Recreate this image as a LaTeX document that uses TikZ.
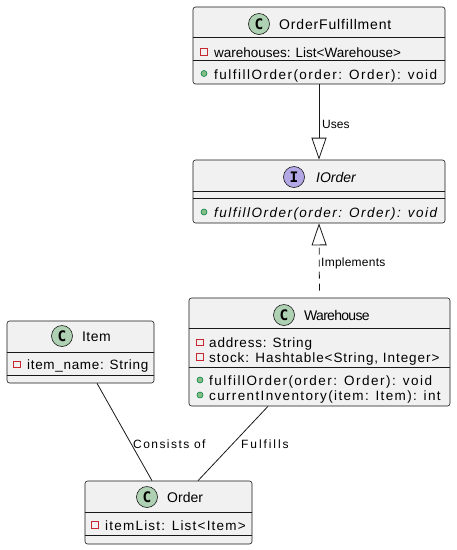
\documentclass[tikz,border=0pt]{standalone}
\usepackage{fontspec}
\setmainfont{Liberation Sans}
\newfontfamily\badgefont{DejaVu Sans Mono}
\usepackage{tikz}
\definecolor{umlline}{HTML}{181818}
\definecolor{boxfill}{HTML}{F1F1F1}
\definecolor{classbadge}{HTML}{ADD1B2}
\definecolor{ifacebadge}{HTML}{B4A7E5}
\definecolor{privred}{HTML}{C82930}
\definecolor{pubgreen}{HTML}{038048}
\definecolor{pubfill}{HTML}{84BE84}
\tikzset{
    classbox/.style={draw=umlline, fill=boxfill, rectangle, rounded corners=2.5pt, line width=0.6pt, inner sep=0},
    badge/.style={draw=umlline, circle, line width=0.6pt, minimum size=21pt, inner sep=0, fill=classbadge, font=\badgefont\fontsize{14.5}{14.5}\selectfont\bfseries},
    ibadge/.style={badge, fill=ifacebadge},
    cname/.style={anchor=base west, inner sep=0, font=\fontsize{14}{16}\selectfont\addfontfeatures{LetterSpace=#1}},
    cname/.default=0,
    member/.style={anchor=base west, inner sep=0, font=\fontsize{13.5}{15}\selectfont\addfontfeatures{LetterSpace=#1}},
    member/.default=0,
    divider/.style={umlline, line width=0.6pt},
    priv/.style={draw=privred, fill=boxfill, rectangle, line width=0.8pt, minimum size=6.5pt, inner sep=0},
    pub/.style={draw=pubgreen, fill=pubfill, circle, line width=0.6pt, minimum size=6pt, inner sep=0},
    elabel/.style={anchor=base west, inner sep=0, font=\fontsize{12}{14}\selectfont\addfontfeatures{LetterSpace=#1}},
    elabel/.default=0,
    extends/.style={-{Triangle[open, length=22pt, width=15pt]}, umlline, line width=0.8pt},
    realizes/.style={extends, dash pattern=on 7pt off 5pt, shorten <=7pt},
    assoc/.style={umlline, line width=0.8pt} }
\usetikzlibrary{arrows.meta}

\begin{document}
\begin{tikzpicture}[x=1pt, y=-1pt]
			\useasboundingbox (0,0) rectangle (457,550);
			% OrderFulfillment
			\node[classbox, minimum width=252pt, minimum height=77pt] (OF) at (319,45.5) {};
			\node[badge] (OFbadge) at (259,24) {C};
			\node[cname=6] (OFname) at (279,29) {OrderFulfillment};
			\draw[divider] ([yshift=-31pt]OF.north west) -- ([yshift=-31pt]OF.north east);
			\draw[divider] ([yshift=-54pt]OF.north west) -- ([yshift=-54pt]OF.north east);
			\node[priv] (OFa1m) at (204,52) {};
			\node[member] (OFa1) at (214,57) {warehouses: List<Warehouse>};
			\node[pub] (OFm1m) at (204,73.5) {};
			\node[member=11] (OFm1) at (214,79) {fulfillOrder(order: Order): void};
			% IOrder
			\node[classbox, minimum width=252pt, minimum height=63pt] (IO) at (319,191.5) {};
			\node[ibadge] (IObadge) at (294,177) {I};
			\node[cname] (IOname) at (316,182) {\itshape IOrder};
			\draw[divider] ([yshift=-32pt]IO.north west) -- ([yshift=-32pt]IO.north east);
			\draw[divider] ([yshift=-39pt]IO.north west) -- ([yshift=-39pt]IO.north east);
			\node[pub] (IOm1m) at (204,212) {};
			\node[member=11] (IOm1) at (214,217) {\itshape fulfillOrder(order: Order): void};
			% Warehouse
			\node[classbox, minimum width=261pt, minimum height=108pt] (WH) at (319.5,352) {};
			\node[badge] (WHbadge) at (284,315) {C};
			\node[cname=-5] (WHname) at (304,320) {Warehouse};
			\draw[divider] ([yshift=-31pt]WH.north west) -- ([yshift=-31pt]WH.north east);
			\draw[divider] ([yshift=-70pt]WH.north west) -- ([yshift=-70pt]WH.north east);
			\node[priv] (WHa1m) at (200,342.5) {};
			\node[member=6] (WHa1) at (209,347.5) {address: String};
			\node[priv] (WHa2m) at (200,357) {};
			\node[member=7] (WHa2) at (209,362) {stock: Hashtable<String, Integer>};
			\node[pub] (WHm1m) at (200,380) {};
			\node[member=11] (WHm1) at (209,385) {fulfillOrder(order: Order): void};
			\node[pub] (WHm2m) at (200,395) {};
			\node[member=10] (WHm2) at (209,400) {currentInventory(item: Item): int};
			% Item
			\node[classbox, minimum width=147pt, minimum height=62pt] (IT) at (80.5,352) {};
			\node[badge] (ITbadge) at (62,336) {C};
			\node[cname=3] (ITname) at (82,341.5) {Item};
			\draw[divider] ([yshift=-31.5pt]IT.north west) -- ([yshift=-31.5pt]IT.north east);
			\draw[divider] ([yshift=-55pt]IT.north west) -- ([yshift=-55pt]IT.north east);
			\node[priv] (ITa1m) at (17,364.5) {};
			\node[member=5] (ITa1) at (27,369.5) {item\_name: String};
			% Order
			\node[classbox, minimum width=167pt, minimum height=63pt] (OR) at (168.5,512.5) {};
			\node[badge] (ORbadge) at (147,497) {C};
			\node[cname] (ORname) at (167,502.5) {Order};
			\draw[divider] ([yshift=-32pt]OR.north west) -- ([yshift=-32pt]OR.north east);
			\draw[divider] ([yshift=-55pt]OR.north west) -- ([yshift=-55pt]OR.north east);
			\node[priv] (ORa1m) at (95,525) {};
			\node[member=9] (ORa1) at (105,530) {itemList: List<Item>};
			% ----
			\draw[extends] (OF.south) -- (IO.north);
			\draw[realizes] (WH.north) -- (IO.south);
			\draw[assoc] ([xshift=16.5pt]IT.south) -- ([xshift=-16.5pt]OR.north);
			\draw[assoc] ([xshift=-51.5pt]WH.south) -- ([xshift=29.5pt]OR.north);
			\node[elabel] (lUses) at (322,128) {Uses};
			\node[elabel=2] (lImpl) at (321,266) {Implements};
			\node[elabel=12] (lCons) at (133,448) {Consists of};
			\node[elabel=16] (lFulf) at (241,448) {Fulfills};
		\end{tikzpicture}
\end{document}
